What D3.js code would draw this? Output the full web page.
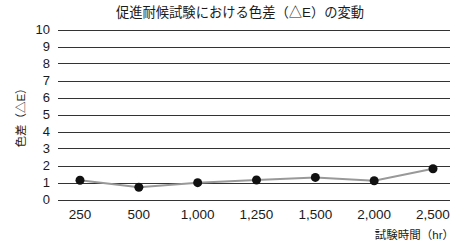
<!DOCTYPE html>
<html lang="ja">
<head>
<meta charset="UTF-8">
<title>促進耐候試験における色差（△E）の変動</title>
<script src="https://d3js.org/d3.v7.min.js"></script>
<style>
  body { margin: 0; background: #fff; font-family: 'Liberation Sans', 'Noto Sans CJK JP', sans-serif; }
  text { fill: #1a1a1a; }
</style>
</head>
<body>
<div id="chart"></div>
<script>
const hours = ["250", "500", "1,000", "1,250", "1,500", "2,000", "2,500"];
const deltaE = [1.13, 0.72, 0.99, 1.15, 1.3, 1.1, 1.81];
const yTicks = [0, 1, 2, 3, 4, 5, 6, 7, 8, 9, 10];

const W = 475, H = 245;
const plotL = 58, plotR = 450, plotT = 29.5, plotB = 199.5;

const svg = d3.select("#chart").append("svg").attr("width", W).attr("height", H);

const x = d3.scalePoint().domain(hours).range([80, 433]);
const y = d3.scaleLinear().domain([0, 10]).range([plotB, plotT]);

// gridlines
svg.append("g").selectAll("line").data(yTicks).join("line")
  .attr("x1", plotL).attr("x2", plotR)
  .attr("y1", d => Math.round(y(d)) + 0.5).attr("y2", d => Math.round(y(d)) + 0.5)
  .attr("stroke", "#333").attr("stroke-width", 1);

// y tick labels
svg.append("g").selectAll("text").data(yTicks).join("text")
  .attr("x", 50).attr("y", d => y(d))
  .attr("dy", "0.35em").attr("text-anchor", "end")
  .attr("font-size", 13).text(d => d);

// x tick labels
svg.append("g").selectAll("text").data(hours).join("text")
  .attr("x", d => x(d)).attr("y", 214)
  .attr("dy", "0.35em").attr("text-anchor", "middle")
  .attr("font-size", 13.5).text(d => d);

// line
svg.append("path")
  .datum(deltaE)
  .attr("fill", "none").attr("stroke", "#999").attr("stroke-width", 2)
  .attr("d", d3.line().x((d, i) => x(hours[i])).y(d => y(d)));

// markers
svg.append("g").selectAll("circle").data(deltaE).join("circle")
  .attr("cx", (d, i) => x(hours[i])).attr("cy", d => y(d))
  .attr("r", 4.5).attr("fill", "#111");

// title
svg.append("text")
  .attr("x", 240).attr("y", 12).attr("dy", "0.35em")
  .attr("text-anchor", "middle").attr("font-size", 13.3)
  .text("促進耐候試験における色差（△E）の変動");

// y axis title
svg.append("text")
  .attr("transform", "translate(21,115) rotate(-90)")
  .attr("dy", "0.35em").attr("text-anchor", "middle").attr("font-size", 11.5)
  .text("色差（△E）");

// x axis title
svg.append("text")
  .attr("x", 454).attr("y", 235).attr("dy", "0.35em")
  .attr("text-anchor", "end").attr("font-size", 11.5)
  .text("試験時間（hr）");
</script>
</body>
</html>
